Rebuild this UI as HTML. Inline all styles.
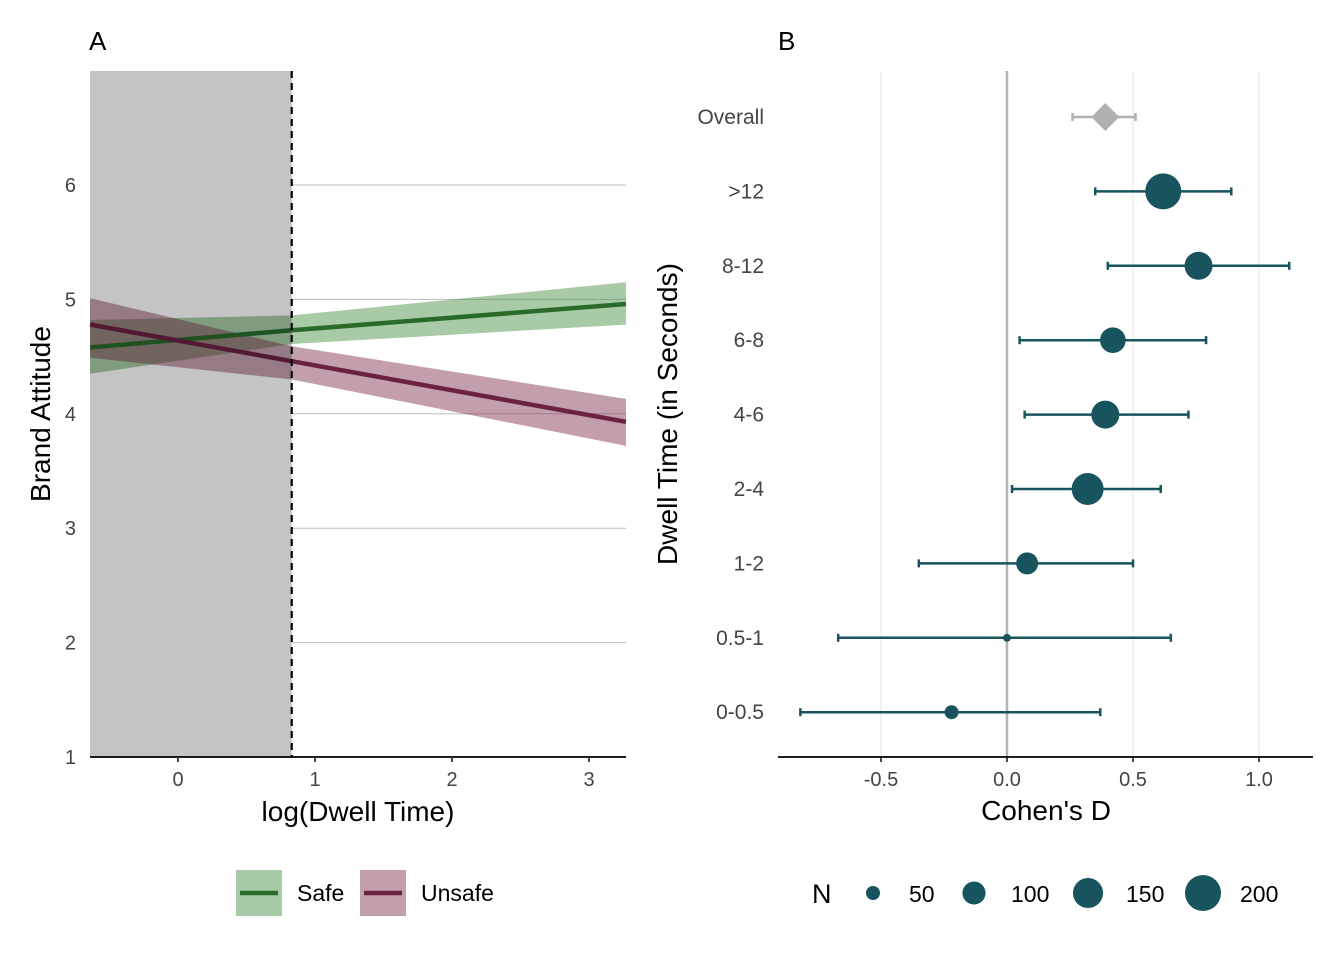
<!DOCTYPE html>
<html><head><meta charset="utf-8"><style>
body{margin:0;background:#fff}
svg text{font-family:"Liberation Sans",Arial,sans-serif}
</style></head><body>
<svg id="c" width="1344" height="960" xmlns="http://www.w3.org/2000/svg"></svg>
<script>
// Panel A data
const aYTicks=[1,2,3,4,5,6];
const aXTicks=[0,1,2,3];
const aXPts=[-0.642,0.83,3.27];
const safeFit=[4.58,4.73,4.96];
const safeLo=[4.35,4.61,4.78];
const safeHi=[4.82,4.86,5.15];
const unsafeFit=[4.78,4.46,3.93];
const unsafeLo=[4.49,4.30,3.72];
const unsafeHi=[5.01,4.59,4.13];
const cutoff=0.83;
// Panel B data
const cats=["Overall",">12","8-12","6-8","4-6","2-4","1-2","0.5-1","0-0.5"];
const est=[0.39,0.62,0.76,0.42,0.39,0.32,0.08,0.00,-0.22];
const ciLo=[0.26,0.35,0.40,0.05,0.07,0.02,-0.35,-0.67,-0.82];
const ciHi=[0.51,0.89,1.12,0.79,0.72,0.61,0.50,0.65,0.37];
const nVals=[0,200,134,117,134,165,93,26,50];
const bXTicks=[-0.5,0.0,0.5,1.0];
const legN=[50,100,150,200];

const NS="http://www.w3.org/2000/svg";
const svg=document.getElementById('c');
function el(t,a,p){const e=document.createElementNS(NS,t);for(const k in a)e.setAttribute(k,a[k]);(p||svg).appendChild(e);return e;}
function txt(s,a,p){const e=el('text',a,p);e.textContent=s;return e;}

// A scales
const ax=v=>178+v*137, ay=v=>757-(v-1)*114.4;
const gA=el('g',{});


aYTicks.forEach(t=>{if(t>1){const l=el('line',{x1:ax(cutoff),x2:626,y1:ay(t),y2:ay(t),stroke:'#bdbdbd','stroke-width':1},gA);}
 const tx=txt(t,{x:76,y:ay(t)+7,'font-size':20,fill:'#444','text-anchor':'end'},gA);});
function band(lo,hi,col,name){const pts=[];aXPts.forEach((x,i)=>pts.push(ax(x)+','+ay(lo[i])));for(let i=aXPts.length-1;i>=0;i--)pts.push(ax(aXPts[i])+','+ay(hi[i]));
 const p=el('polygon',{points:pts.join(' '),fill:col,'fill-opacity':0.45},gA);}
function line(f,col,name){const p=el('polyline',{points:aXPts.map((x,i)=>ax(x)+','+ay(f[i])).join(' '),fill:'none',stroke:col,'stroke-width':4.5},gA);}
band(safeLo,safeHi,'#3f8a3a','safe-ci-band');
band(unsafeLo,unsafeHi,'#7a2a4a','unsafe-ci-band');
line(safeFit,'#2a6b2c','safe-line');
line(unsafeFit,'#6b2242','unsafe-line');
const shade=el('rect',{x:90,y:71,width:ax(cutoff)-90,height:686,fill:'#000','fill-opacity':0.232},gA);


const cl=el('line',{x1:ax(cutoff),x2:ax(cutoff),y1:71,y2:757,stroke:'#000','stroke-width':2.2,'stroke-dasharray':'7,5'},gA);

el('line',{x1:90,x2:626,y1:757,y2:757,stroke:'#000','stroke-width':1.8},gA);
aXTicks.forEach(t=>{el('line',{x1:ax(t),x2:ax(t),y1:757,y2:762,stroke:'#333','stroke-width':1.8},gA);
 const tx=txt(t,{x:ax(t),y:786,'font-size':20,fill:'#444','text-anchor':'middle'},gA);});
let t1=txt('log(Dwell Time)',{x:358,y:821,'font-size':28,'text-anchor':'middle'},gA);
t1=txt('Brand Attitude',{x:0,y:0,'font-size':28,'text-anchor':'middle',transform:'translate(50,414) rotate(-90)'},gA);
t1=txt('A',{x:89,y:50,'font-size':26},gA);
[['Safe','#3f8a3a','#2a6b2c',236,297],['Unsafe','#7a2a4a','#6b2242',360,421]].forEach(d=>{const g=el('g',{},gA);
 el('rect',{x:d[3],y:870,width:46,height:46,fill:d[1],'fill-opacity':0.45},g);el('line',{x1:d[3]+4,x2:d[3]+42,y1:893,y2:893,stroke:d[2],'stroke-width':4.5},g);
 txt(d[0],{x:d[4],y:901,'font-size':23},g);});

// B scales
const bx=v=>1007+v*252, by=i=>117+i*74.4;
const rad=n=>1.556*Math.sqrt(n)-4;
const gB=el('g',{});


bXTicks.forEach(t=>{const l=el('line',{x1:bx(t),x2:bx(t),y1:71,y2:757,stroke:t===0?'#b3b3b3':'#e3e3e3','stroke-width':t===0?2.5:1},gB);
 el('line',{x1:bx(t),x2:bx(t),y1:757,y2:762,stroke:'#333','stroke-width':1.8},gB);
 const tx=txt(t.toFixed(1),{x:bx(t),y:786,'font-size':20,fill:'#444','text-anchor':'middle'},gB);});
el('line',{x1:778,x2:1313,y1:757,y2:757,stroke:'#000','stroke-width':1.8},gB);
cats.forEach((c,i)=>{const y=by(i);const col=i===0?'#b0b0b0':'#18545e';
 const g=el('g',{},gB);
 const tx=txt(c,{x:764,y:y+7,'font-size':21,fill:'#444','text-anchor':'end'},g);
 const e=el('line',{x1:bx(ciLo[i]),x2:bx(ciHi[i]),y1:y,y2:y,stroke:col,'stroke-width':2.5},g);
 [ciLo[i],ciHi[i]].forEach(v=>el('line',{x1:bx(v),x2:bx(v),y1:y-4,y2:y+4,stroke:col,'stroke-width':2.5},g));
 if(i===0){const p=el('polygon',{points:`${bx(est[i])-14},${y} ${bx(est[i])},${y-14} ${bx(est[i])+14},${y} ${bx(est[i])},${y+14}`,fill:col},g);}
 else{const p=el('circle',{cx:bx(est[i]),cy:y,r:rad(nVals[i]),fill:col},g);}
});
t1=txt("Cohen's D",{x:1046,y:820,'font-size':28,'text-anchor':'middle'},gB);
t1=txt('Dwell Time (in Seconds)',{x:0,y:0,'font-size':28,'text-anchor':'middle',transform:'translate(677,414) rotate(-90)'},gB);
t1=txt('B',{x:778,y:50,'font-size':26},gB);
t1=txt('N',{x:812,y:903,'font-size':27},gB);
const lx=[873,974,1088,1203],tx2=[909,1011,1126,1240];
legN.forEach((n,i)=>{const g=el('g',{},gB);
 el('circle',{cx:lx[i],cy:893,r:rad(n),fill:'#18545e'},g);txt(n,{x:tx2[i],y:902,'font-size':23},g);});
</script>
</body></html>
